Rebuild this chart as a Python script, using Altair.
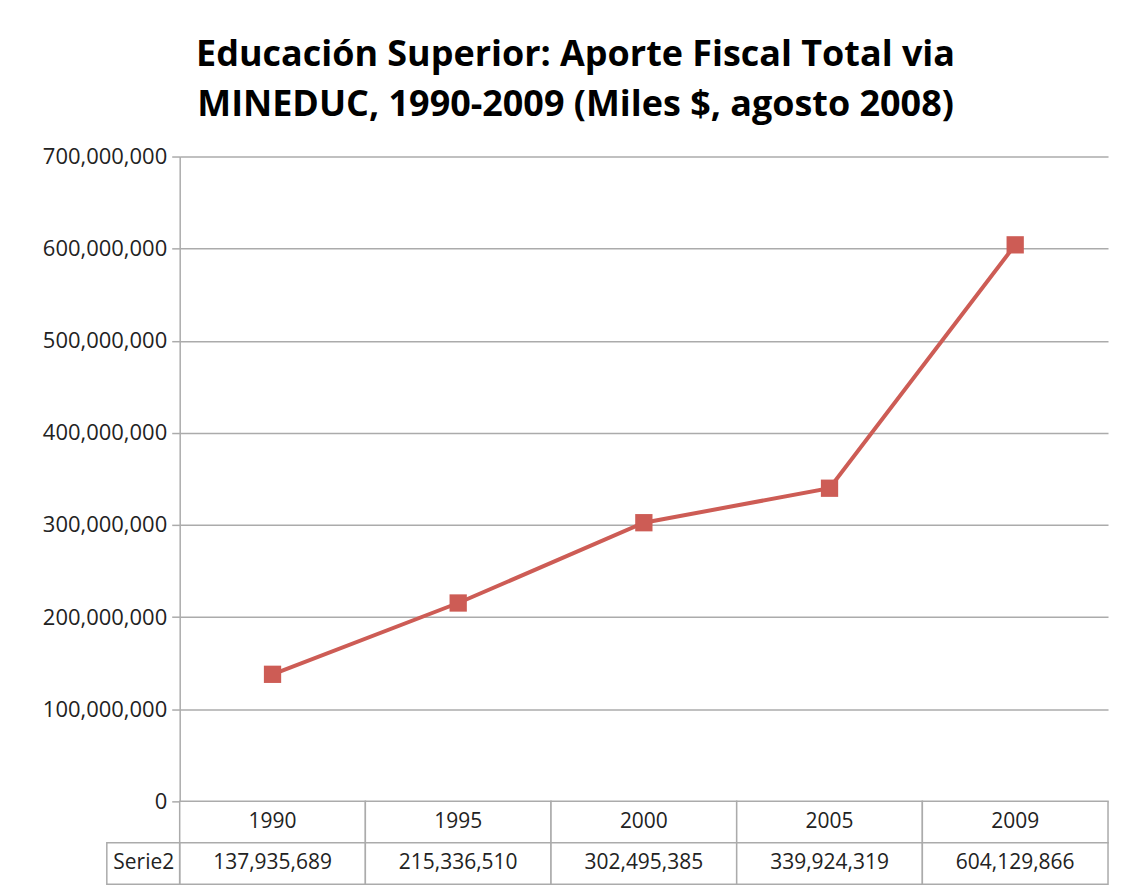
import altair as alt
import pandas as pd

years = ["1990", "1995", "2000", "2005", "2009"]
values = [137935689, 215336510, 302495385, 339924319, 604129866]
y_ticks = [0, 100000000, 200000000, 300000000, 400000000, 500000000, 600000000, 700000000]
series_name = "Serie2"
title_lines = ["Educación Superior: Aporte Fiscal Total via",
               "MINEDUC, 1990-2009 (Miles $, agosto 2008)"]

LINE = "#CD5C55"
GRID = "#ababab"
FONT = "Open Sans"
ROW_ORDER = ["hdr", series_name]

df = pd.DataFrame({"year": years, "value": values})

xenc = alt.X("year:N", sort=years, axis=None,
             scale=alt.Scale(paddingInner=0, paddingOuter=0))

base = alt.Chart(df)
line = base.mark_line(color=LINE, strokeWidth=4).encode(
    x=xenc,
    y=alt.Y("value:Q", title=None,
            scale=alt.Scale(domain=[0, 700000000]),
            axis=alt.Axis(values=y_ticks, format=",d", labelFont=FONT, labelFontSize=22,
                          labelColor="#222222", labelPadding=5, tickSize=8,
                          tickColor=GRID, tickWidth=1.5, domainColor=GRID, domainWidth=1.5,
                          gridColor=GRID, gridWidth=1.5)),
)
pts = base.mark_point(shape="square", filled=True, size=300, opacity=1, color=LINE).encode(
    x=xenc, y="value:Q"
)
top = alt.layer(line, pts).properties(width=930, height=646)

# data table below the plot
rows = []
for yr, v in zip(years, values):
    rows.append({"year": yr, "row": "hdr", "label": yr})
    rows.append({"year": yr, "row": series_name, "label": f"{v:,}"})
tdf = pd.DataFrame(rows)

yenc = alt.Y("row:N", sort=ROW_ORDER, title=None,
             scale=alt.Scale(domain=ROW_ORDER, paddingInner=0, paddingOuter=0),
             axis=alt.Axis(labelExpr=f"datum.value == '{series_name}' ? '{series_name}' : ''",
                           labelFont=FONT, labelFontSize=21, labelColor="#222222",
                           ticks=False, domain=False, labelPadding=6))
tbase = alt.Chart(tdf)
cells = tbase.mark_rect(fill="white", stroke=GRID, strokeWidth=1.5).encode(x=xenc, y=yenc)
texts = tbase.mark_text(font=FONT, fontSize=21, color="#222222").encode(
    x=xenc, y=yenc, text="label:N")
hdrbox = alt.Chart(pd.DataFrame({"row": [series_name]})).mark_rect(
    fill="none", stroke=GRID, strokeWidth=1.5).encode(
    x=alt.value(-73), x2=alt.value(0), y=yenc)
bottom = alt.layer(cells, texts, hdrbox).properties(width=930, height=83)

chart = alt.vconcat(top, bottom, spacing=0, bounds="flush").properties(
    title=alt.TitleParams(text=title_lines, font=FONT, fontSize=36, fontWeight="bold",
                          color="#000000", anchor="middle", lineHeight=50, offset=22),
    padding={"left": 34, "top": 28, "right": 10, "bottom": 5},
).configure_view(stroke=None).resolve_scale(x="shared")

chart.save("out.html", embed_options={"renderer": "svg", "actions": False})
